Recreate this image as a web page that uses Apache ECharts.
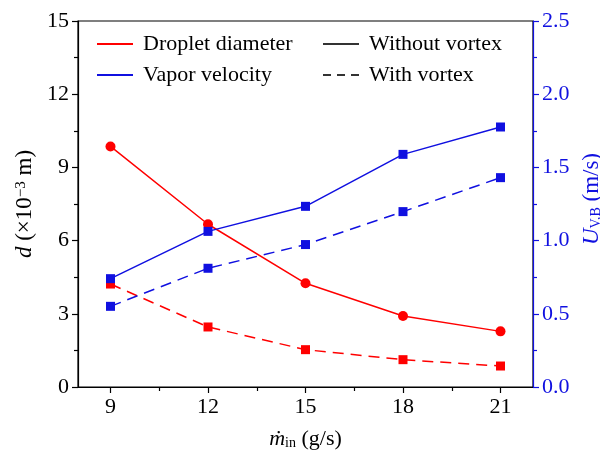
<!DOCTYPE html>
<html>
<head>
<meta charset="utf-8">
<script src="https://cdn.jsdelivr.net/npm/echarts@6/dist/echarts.min.js"></script>
<style>
  html, body { margin: 0; padding: 0; background: #fff; }
  #chart { width: 600px; height: 458px; }
</style>
</head>
<body>
<div id="chart"></div>
<script>
// flow rate (g/s)
const flowRate = [9, 12, 15, 18, 21];
const xTicks = [9, 12, 15, 18, 21];
const xMinorTicks = [10.5, 13.5, 16.5, 19.5];
// droplet diameter d (x10^-3 m)
const diameterNoVortex = [9.86, 6.67, 4.25, 2.91, 2.28];
const diameterVortex = [4.22, 2.46, 1.53, 1.12, 0.86];
// vapor velocity U_VB (m/s)
const velocityNoVortex = [0.74, 1.063, 1.234, 1.589, 1.776];
const velocityVortex = [0.551, 0.811, 0.973, 1.198, 1.43];

const RED = "#ff0000";
const BLUE = "#1010e0";
const FONT = "Liberation Serif";

const pairs = (ys) => flowRate.map((x, i) => [x, ys[i]]);

const legendBase = {
  top: 33,
  padding: 0,
  orient: "vertical",
  itemWidth: 36,
  itemHeight: 2,
  itemGap: 9,
  itemStyle: { opacity: 0 },
  textStyle: { fontFamily: FONT, fontSize: 22, color: "#000", padding: [0, 0, 0, 5] },
};

const chart = echarts.init(document.getElementById("chart"));
chart.setOption({
  animation: false,
  textStyle: { fontFamily: FONT },
  grid: {
    left: 78,
    right: 67,
    top: 21,
    bottom: 71,
    outerBoundsMode: "none",
    containLabel: false,
    show: true,
    borderColor: "#000",
    borderWidth: 1.2,
  },
  legend: [
    Object.assign({ left: 96, data: ["Droplet diameter", "Vapor velocity"] }, legendBase),
    Object.assign({ left: 322, data: ["Without vortex", "With vortex"] }, legendBase),
  ],
  xAxis: [
    {
      type: "value",
      min: 8,
      max: 22,
      name: "{i|ṁ}{sub|in}{n| (g/s)}",
      nameLocation: "middle",
      nameGap: 41,
      nameTextStyle: {
        rich: {
          i: { fontFamily: FONT, fontSize: 22, fontStyle: "italic", color: "#000" },
          sub: { fontFamily: FONT, fontSize: 14, color: "#000", verticalAlign: "bottom", padding: [8, 0, 0, 0] },
          n: { fontFamily: FONT, fontSize: 22, color: "#000" },
        },
      },
      axisLine: { onZero: false, lineStyle: { color: "#000", width: 1.2 } },
      axisTick: { inside: false, length: 6, customValues: xTicks, lineStyle: { color: "#000", width: 1.2 } },
      axisLabel: { customValues: xTicks, margin: 9, fontFamily: FONT, fontSize: 22, color: "#000" },
      splitLine: { show: false },
    },
    {
      type: "value",
      min: 8,
      max: 22,
      position: "bottom",
      axisLine: { show: false },
      axisTick: { inside: false, length: 4, customValues: xMinorTicks, lineStyle: { color: "#000", width: 1.2 } },
      axisLabel: { show: false },
      splitLine: { show: false },
    },
  ],
  yAxis: [
    {
      type: "value",
      min: 0,
      max: 15,
      interval: 3,
      name: "{i|d}{n| (×10}{s|−3}{n| m)}",
      nameLocation: "middle",
      nameRotate: 90,
      nameGap: 37,
      nameTextStyle: {
        rich: {
          i: { fontFamily: FONT, fontSize: 23, fontStyle: "italic", color: "#000" },
          n: { fontFamily: FONT, fontSize: 23, color: "#000" },
          s: { fontFamily: FONT, fontSize: 15, color: "#000", verticalAlign: "top", padding: [0, 0, 8, 0] },
        },
      },
      axisLine: { show: true, lineStyle: { color: "#000", width: 1.2 } },
      axisTick: { inside: false, length: 6, lineStyle: { color: "#000", width: 1.2 } },
      minorTick: { show: true, splitNumber: 2, length: 4, lineStyle: { color: "#000", width: 1.2 } },
      axisLabel: { margin: 9, fontFamily: FONT, fontSize: 22, color: "#000" },
      splitLine: { show: false },
    },
    {
      type: "value",
      position: "right",
      min: 0,
      max: 2.5,
      interval: 0.5,
      name: "{i|U}{sub|V,B}{n| (m/s)}",
      nameLocation: "middle",
      nameRotate: 90,
      nameGap: 37,
      nameTextStyle: {
        padding: [0, 0, 0, 10],
        rich: {
          i: { fontFamily: FONT, fontSize: 23, fontStyle: "italic", color: BLUE },
          sub: { fontFamily: FONT, fontSize: 14, color: BLUE, verticalAlign: "bottom", padding: [8, 0, 0, 0] },
          n: { fontFamily: FONT, fontSize: 23, color: BLUE },
        },
      },
      axisLine: { show: true, lineStyle: { color: BLUE, width: 1.2 } },
      axisTick: { inside: false, length: 6, lineStyle: { color: BLUE, width: 1.2 } },
      minorTick: { show: true, splitNumber: 2, length: 4, lineStyle: { color: BLUE, width: 1.2 } },
      axisLabel: {
        margin: 9,
        fontFamily: FONT,
        fontSize: 22,
        color: BLUE,
        formatter: (v) => v.toFixed(1),
      },
      splitLine: { show: false },
    },
  ],
  series: [
    // legend-only entries
    { name: "Droplet diameter", type: "line", data: [], symbol: "none", color: RED, lineStyle: { color: RED, width: 1.5 } },
    { name: "Vapor velocity", type: "line", data: [], symbol: "none", color: BLUE, lineStyle: { color: BLUE, width: 1.5 } },
    { name: "Without vortex", type: "line", data: [], symbol: "none", color: "#333", lineStyle: { color: "#333", width: 1.5 } },
    { name: "With vortex", type: "line", data: [], symbol: "none", color: "#333", lineStyle: { color: "#333", width: 1.5, type: [8, 6] } },
    // data
    {
      type: "line",
      yAxisIndex: 0,
      data: pairs(diameterNoVortex),
      symbol: "circle",
      symbolSize: 10,
      itemStyle: { color: RED },
      lineStyle: { color: RED, width: 1.5 },
    },
    {
      type: "line",
      yAxisIndex: 0,
      data: pairs(diameterVortex),
      symbol: "rect",
      symbolSize: 9,
      itemStyle: { color: RED },
      lineStyle: { color: RED, width: 1.5, type: [11, 7] },
    },
    {
      type: "line",
      yAxisIndex: 1,
      data: pairs(velocityNoVortex),
      symbol: "rect",
      symbolSize: 9,
      itemStyle: { color: BLUE },
      lineStyle: { color: BLUE, width: 1.5 },
    },
    {
      type: "line",
      yAxisIndex: 1,
      data: pairs(velocityVortex),
      symbol: "rect",
      symbolSize: 9,
      itemStyle: { color: BLUE },
      lineStyle: { color: BLUE, width: 1.5, type: [11, 7] },
    },
  ],
});
</script>
</body>
</html>
